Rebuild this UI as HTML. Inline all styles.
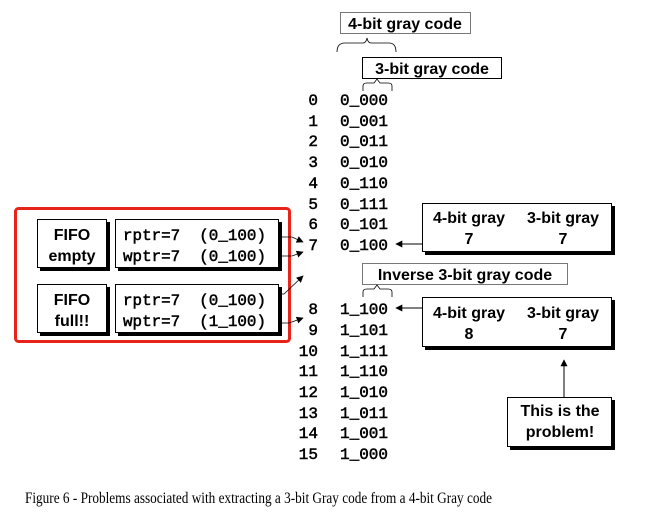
<!DOCTYPE html>
<html><head><style>
html,body{margin:0;padding:0;background:#fff;}
svg{display:block}
.s{font-family:"Liberation Sans",sans-serif;font-weight:bold;font-size:16px;}
.m{font-family:"Liberation Mono",monospace;font-size:16px;stroke:#000;stroke-width:0.5;}
</style></head><body>
<svg width="660" height="518" viewBox="0 0 660 518" xmlns="http://www.w3.org/2000/svg">
<defs><marker id="a" viewBox="0 0 10 10" refX="9" refY="5" markerWidth="7" markerHeight="7" orient="auto-start-reverse" markerUnits="userSpaceOnUse"><path d="M0,0L10,5L0,10z" fill="#000"/></marker></defs>
<rect x="340.5" y="12.5" width="130" height="21" fill="#fff" stroke="#777"/>
<text x="405" y="29" class="s" text-anchor="middle">4-bit gray code</text>
<path d="M337,52 Q337,43 345,43 L363,43 Q366,43 367,38 Q368,43 371,43 L389,43 Q396,43 396,52" fill="none" stroke="#000" stroke-width="0.8"/>
<rect x="362.5" y="57.5" width="139" height="21" fill="#fff" stroke="#000"/>
<text x="432" y="74" class="s" text-anchor="middle">3-bit gray code</text>
<path d="M363,91 L363,86 Q363,83 367,83 L374,83 L377,79 L380,83 L388,83 Q392,83 392,86 L392,91" fill="none" stroke="#000" stroke-width="0.8"/>
<g class="m" text-anchor="end">
<text x="318" y="105">0</text><text x="318" y="126">1</text><text x="318" y="146">2</text><text x="318" y="167">3</text><text x="318" y="188">4</text><text x="318" y="209">5</text><text x="318" y="229">6</text><text x="318" y="250">7</text>
<text x="318" y="314">8</text><text x="318" y="335">9</text><text x="318" y="356">10</text><text x="318" y="376">11</text><text x="318" y="397">12</text><text x="318" y="418">13</text><text x="318" y="438">14</text><text x="318" y="459">15</text>
</g>
<g class="m">
<text x="340" y="105">0_000</text><text x="340" y="126">0_001</text><text x="340" y="146">0_011</text><text x="340" y="167">0_010</text><text x="340" y="188">0_110</text><text x="340" y="209">0_111</text><text x="340" y="229">0_101</text><text x="340" y="250">0_100</text>
<text x="340" y="314">1_100</text><text x="340" y="335">1_101</text><text x="340" y="356">1_111</text><text x="340" y="376">1_110</text><text x="340" y="397">1_010</text><text x="340" y="418">1_011</text><text x="340" y="438">1_001</text><text x="340" y="459">1_000</text>
</g>
<rect x="362.5" y="263.5" width="205" height="21" fill="#fff" stroke="#777"/>
<text x="465" y="280" class="s" text-anchor="middle">Inverse 3-bit gray code</text>
<path d="M363,297 L363,292 Q363,289 367,289 L374,289 L377,285 L380,289 L388,289 Q392,289 392,292 L392,297" fill="none" stroke="#000" stroke-width="0.8"/>
<rect x="425" y="206" width="190" height="49" fill="#000"/>
<rect x="422.5" y="203.5" width="189" height="48" fill="#fff" stroke="#000"/>
<text x="469" y="223" class="s" text-anchor="middle">4-bit gray</text><text x="563" y="223" class="s" text-anchor="middle">3-bit gray</text>
<text x="469" y="244" class="s" text-anchor="middle">7</text><text x="563" y="244" class="s" text-anchor="middle">7</text>
<line x1="422" y1="244" x2="396" y2="244" stroke="#000" marker-end="url(#a)"/>
<rect x="425" y="300" width="190" height="50" fill="#000"/>
<rect x="422.5" y="297.5" width="189" height="49" fill="#fff" stroke="#000"/>
<text x="469" y="318" class="s" text-anchor="middle">4-bit gray</text><text x="563" y="318" class="s" text-anchor="middle">3-bit gray</text>
<text x="469" y="339" class="s" text-anchor="middle">8</text><text x="563" y="339" class="s" text-anchor="middle">7</text>
<line x1="422" y1="308" x2="396" y2="308" stroke="#000" marker-end="url(#a)"/>
<line x1="564" y1="397" x2="564" y2="360" stroke="#000" marker-end="url(#a)"/>
<rect x="510" y="400" width="105" height="50" fill="#000"/>
<rect x="507.5" y="397.5" width="104" height="49" fill="#fff" stroke="#000"/>
<text x="560" y="416" class="s" text-anchor="middle">This is the</text>
<text x="560" y="437" class="s" text-anchor="middle">problem!</text>
<rect x="15.5" y="208.5" width="274" height="133" rx="3" fill="none" stroke="#e8231a" stroke-width="3"/>
<rect x="40" y="222" width="70" height="49" fill="#000"/>
<rect x="37.5" y="219.5" width="69" height="48" fill="#fff" stroke="#000"/>
<text x="72" y="240" class="s" text-anchor="middle">FIFO</text><text x="72" y="261" class="s" text-anchor="middle">empty</text>
<rect x="118" y="222" width="164" height="49" fill="#000"/>
<rect x="115.5" y="219.5" width="163" height="48" fill="#fff" stroke="#000"/>
<text x="123" y="240" class="m" xml:space="preserve" textLength="143" lengthAdjust="spacingAndGlyphs">rptr=7  (0_100)</text><text x="123" y="261" class="m" xml:space="preserve" textLength="143" lengthAdjust="spacingAndGlyphs">wptr=7  (0_100)</text>
<rect x="40" y="287" width="70" height="49" fill="#000"/>
<rect x="37.5" y="284.5" width="69" height="48" fill="#fff" stroke="#000"/>
<text x="72" y="305" class="s" text-anchor="middle">FIFO</text><text x="72" y="326" class="s" text-anchor="middle">full!!</text>
<rect x="118" y="287" width="164" height="49" fill="#000"/>
<rect x="115.5" y="284.5" width="163" height="48" fill="#fff" stroke="#000"/>
<text x="123" y="305" class="m" xml:space="preserve" textLength="143" lengthAdjust="spacingAndGlyphs">rptr=7  (0_100)</text><text x="123" y="326" class="m" xml:space="preserve" textLength="143" lengthAdjust="spacingAndGlyphs">wptr=7  (1_100)</text>
<g stroke="#000" stroke-width="0.8" fill="none">
<path d="M279,237 L292,237 L303,242" marker-end="url(#a)"/>
<path d="M279,256 L292,256 L303,252" marker-end="url(#a)"/>
<path d="M279,294 L284,294 L303,276" marker-end="url(#a)"/>
<path d="M279,323 L289,323 L303,318" marker-end="url(#a)"/>
</g>
<text x="25" y="503" font-family="Liberation Serif,serif" font-size="16" textLength="467" lengthAdjust="spacingAndGlyphs">Figure 6 - Problems associated with extracting a 3-bit Gray code from a 4-bit Gray code</text>
</svg>
</body></html>
